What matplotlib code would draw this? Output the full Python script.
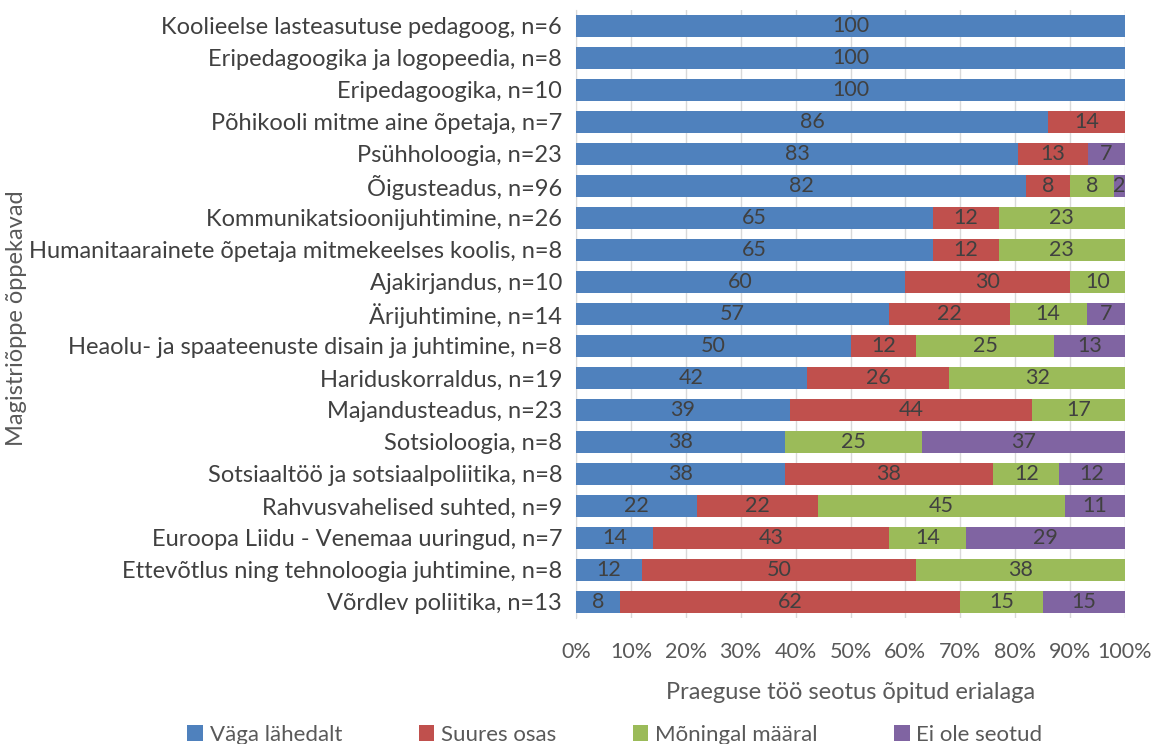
import numpy as np
import matplotlib.pyplot as plt
from matplotlib.patches import Patch

plt.rcParams['font.family'] = ['Lato', 'DejaVu Sans']

programmes = [
    "Koolieelse lasteasutuse pedagoog, n=6",
    "Eripedagoogika ja logopeedia, n=8",
    "Eripedagoogika, n=10",
    "Põhikooli mitme aine õpetaja, n=7",
    "Psühholoogia, n=23",
    "Õigusteadus, n=96",
    "Kommunikatsioonijuhtimine, n=26",
    "Humanitaarainete õpetaja mitmekeelses koolis, n=8",
    "Ajakirjandus, n=10",
    "Ärijuhtimine, n=14",
    "Heaolu- ja spaateenuste disain ja juhtimine, n=8",
    "Hariduskorraldus, n=19",
    "Majandusteadus, n=23",
    "Sotsioloogia, n=8",
    "Sotsiaaltöö ja sotsiaalpoliitika, n=8",
    "Rahvusvahelised suhted, n=9",
    "Euroopa Liidu - Venemaa uuringud, n=7",
    "Ettevõtlus ning tehnoloogia juhtimine, n=8",
    "Võrdlev poliitika, n=13",
]

vaga_lahedalt = [100, 100, 100, 86, 83, 82, 65, 65, 60, 57, 50, 42, 39, 38, 38, 22, 14, 12, 8]
suures_osas   = [0, 0, 0, 14, 13, 8, 12, 12, 30, 22, 12, 26, 44, 0, 38, 22, 43, 50, 62]
moningal      = [0, 0, 0, 0, 0, 8, 23, 23, 10, 14, 25, 32, 17, 25, 12, 45, 14, 38, 15]
ei_ole        = [0, 0, 0, 0, 7, 2, 0, 0, 0, 7, 13, 0, 0, 37, 12, 11, 29, 0, 15]

series = [
    ("Väga lähedalt", vaga_lahedalt, "#4F81BD"),
    ("Suures osas", suures_osas, "#C0504D"),
    ("Mõningal määral", moningal, "#9BBB59"),
    ("Ei ole seotud", ei_ole, "#8064A2"),
]

raw = np.array([s[1] for s in series], dtype=float)
totals = raw.sum(axis=0)
shares = raw / totals * 100  # 100% stacked, like Excel

fig = plt.figure(figsize=(11.54, 7.44), dpi=100)
ax = fig.add_axes([576 / 1154, 1 - 618 / 744, 549 / 1154, 608 / 744])

y = np.arange(len(programmes))
left = np.zeros(len(programmes))
for (name, vals, color), share in zip(series, shares):
    ax.barh(y, share, left=left, height=0.69, color=color, zorder=3)
    for yi, v, w, l in zip(y, vals, share, left):
        if v > 0:
            ax.text(l + w / 2, yi, str(v), ha="center", va="center",
                    fontsize=15.5, color="#404040", zorder=4)
    left += share

ax.set_xlim(0, 100)
ax.set_ylim(len(programmes) - 0.5, -0.5)
ax.set_yticks(y)
ax.set_yticklabels(programmes, fontsize=17, color="#404040")
ax.set_xticks(np.arange(0, 101, 10))
ax.set_xticklabels([f"{t}%" for t in range(0, 101, 10)], fontsize=15.5, color="#595959")
ax.tick_params(axis="y", length=0, pad=10)
ax.tick_params(axis="x", length=0, pad=17)
ax.grid(axis="x", color="#D9D9D9", linewidth=1, zorder=0)
for s in ["top", "right", "bottom"]:
    ax.spines[s].set_visible(False)
ax.spines["left"].set_color("#D9D9D9")

ax.set_xlabel("Praeguse töö seotus õpitud erialaga", fontsize=17, color="#595959", labelpad=15)
fig.text(17 / 1154, 1 - 318 / 744, "Magistriõppe õppekavad", rotation=90,
         ha="center", va="center", fontsize=17, color="#595959")

handles = [Patch(facecolor=c, label=n) for n, _, c in series]
fig.legend(handles=handles, loc="center", bbox_to_anchor=(615 / 1154, 1 - 735 / 744),
           ncol=4, frameon=False, fontsize=16, handlelength=0.7, handleheight=0.7,
           handletextpad=0.3, columnspacing=3.45, labelcolor="#595959")

fig.savefig("out.png", dpi=100)
